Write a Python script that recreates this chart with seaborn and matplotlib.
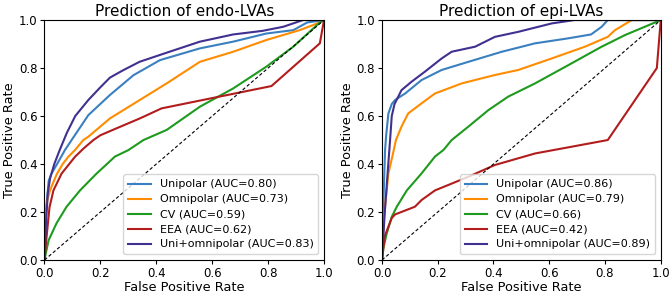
import pandas as pd
import seaborn as sns
import matplotlib.pyplot as plt

# ROC curves
models = ['Unipolar', 'Omnipolar', 'CV', 'EEA', 'Uni+omnipolar']
colors = ['#3a80c0', '#ff8c00', '#1e9a1e', '#b21c1c', '#41308f']

endo_auc = [0.80, 0.73, 0.59, 0.62, 0.83]
epi_auc = [0.86, 0.79, 0.66, 0.42, 0.89]

# endo-LVAs
endo_uni_fpr = [0, 0.005, 0.015, 0.025, 0.045, 0.073, 0.097, 0.157, 0.234, 0.318, 0.413, 0.556, 0.675, 0.794, 0.89, 0.94, 1.0]
endo_uni_tpr = [0, 0.2, 0.33, 0.36, 0.40, 0.458, 0.5, 0.604, 0.6875, 0.77, 0.833, 0.882, 0.91, 0.944, 0.958, 0.99, 1.0]
endo_omni_fpr = [0, 0.002, 0.01, 0.02, 0.03, 0.045, 0.065, 0.085, 0.109, 0.139, 0.157, 0.234, 0.341, 0.437, 0.556, 0.675, 0.794, 0.913, 0.985, 1.0]
endo_omni_tpr = [0, 0.15, 0.25, 0.29, 0.32, 0.36, 0.40, 0.43, 0.458, 0.5, 0.514, 0.59, 0.667, 0.736, 0.826, 0.868, 0.917, 0.958, 0.99, 1.0]
endo_cv_fpr = [0, 0.005, 0.015, 0.043, 0.079, 0.127, 0.187, 0.252, 0.30, 0.354, 0.437, 0.556, 0.675, 0.794, 0.89, 0.985, 1.0]
endo_cv_tpr = [0, 0.03, 0.083, 0.153, 0.222, 0.29, 0.361, 0.431, 0.458, 0.5, 0.542, 0.639, 0.715, 0.806, 0.889, 0.99, 1.0]
endo_eea_fpr = [0, 0.006, 0.018, 0.032, 0.061, 0.109, 0.14, 0.175, 0.2, 0.258, 0.341, 0.419, 0.812, 0.985, 1.0]
endo_eea_tpr = [0, 0.08, 0.22, 0.29, 0.36, 0.43, 0.465, 0.5, 0.52, 0.549, 0.59, 0.632, 0.725, 0.903, 1.0]
endo_comb_fpr = [0, 0.005, 0.012, 0.02, 0.035, 0.055, 0.08, 0.11, 0.157, 0.2, 0.234, 0.28, 0.34, 0.437, 0.556, 0.675, 0.78, 0.854, 0.925, 1.0]
endo_comb_tpr = [0, 0.15, 0.28, 0.34, 0.40, 0.46, 0.53, 0.60, 0.667, 0.72, 0.76, 0.79, 0.826, 0.864, 0.91, 0.94, 0.955, 0.972, 1.0, 1.0]

# epi-LVAs
epi_uni_fpr = [0, 0.004, 0.008, 0.011, 0.015, 0.023, 0.035, 0.047, 0.083, 0.142, 0.214, 0.31, 0.43, 0.549, 0.669, 0.75, 0.788, 0.81, 1.0]
epi_uni_tpr = [0, 0.2, 0.35, 0.458, 0.52, 0.611, 0.65, 0.667, 0.694, 0.75, 0.792, 0.826, 0.868, 0.903, 0.924, 0.94, 0.972, 1.0, 1.0]
epi_omni_fpr = [0, 0.005, 0.011, 0.023, 0.037, 0.05, 0.07, 0.094, 0.142, 0.19, 0.286, 0.405, 0.489, 0.609, 0.728, 0.81, 0.836, 0.896, 1.0]
epi_omni_tpr = [0, 0.15, 0.222, 0.361, 0.431, 0.5, 0.556, 0.611, 0.653, 0.694, 0.736, 0.771, 0.792, 0.84, 0.889, 0.93, 0.958, 1.0, 1.0]
epi_cv_fpr = [0, 0.005, 0.017, 0.035, 0.053, 0.089, 0.142, 0.19, 0.22, 0.25, 0.31, 0.382, 0.453, 0.549, 0.669, 0.788, 0.872, 1.0]
epi_cv_tpr = [0, 0.05, 0.111, 0.18, 0.222, 0.29, 0.361, 0.431, 0.458, 0.5, 0.556, 0.625, 0.681, 0.736, 0.8125, 0.889, 0.9375, 1.0]
epi_eea_fpr = [0, 0.01, 0.035, 0.047, 0.118, 0.142, 0.19, 0.31, 0.405, 0.549, 0.81, 0.986, 1.0]
epi_eea_tpr = [0, 0.1, 0.175, 0.19, 0.222, 0.25, 0.29, 0.347, 0.396, 0.444, 0.5, 0.8, 1.0]
epi_comb_fpr = [0, 0.005, 0.01, 0.02, 0.029, 0.035, 0.045, 0.07, 0.106, 0.154, 0.214, 0.25, 0.334, 0.405, 0.489, 0.609, 0.69, 1.0]
epi_comb_tpr = [0, 0.1, 0.2, 0.36, 0.5, 0.6, 0.65, 0.708, 0.743, 0.785, 0.84, 0.868, 0.889, 0.93, 0.951, 0.986, 1.0, 1.0]

endo_curves = [(endo_uni_fpr, endo_uni_tpr), (endo_omni_fpr, endo_omni_tpr), (endo_cv_fpr, endo_cv_tpr),
               (endo_eea_fpr, endo_eea_tpr), (endo_comb_fpr, endo_comb_tpr)]
epi_curves = [(epi_uni_fpr, epi_uni_tpr), (epi_omni_fpr, epi_omni_tpr), (epi_cv_fpr, epi_cv_tpr),
              (epi_eea_fpr, epi_eea_tpr), (epi_comb_fpr, epi_comb_tpr)]


def to_frame(curves, aucs):
    rows = []
    for name, auc, (fpr, tpr) in zip(models, aucs, curves):
        label = '%s (AUC=%.2f)' % (name, auc)
        for i, (x, y) in enumerate(zip(fpr, tpr)):
            rows.append({'label': label, 'order': i, 'fpr': x, 'tpr': y})
    return pd.DataFrame(rows)


fig = plt.figure(figsize=(6.71, 2.95), dpi=100)
ax1 = fig.add_axes([0.0663, 0.1186, 0.4166, 0.8134])
ax2 = fig.add_axes([0.5693, 0.1186, 0.4154, 0.8134])

panels = [(ax1, endo_curves, endo_auc, 'Prediction of endo-LVAs'),
          (ax2, epi_curves, epi_auc, 'Prediction of epi-LVAs')]

for ax, curves, aucs, title in panels:
    df = to_frame(curves, aucs)
    labels = list(dict.fromkeys(df['label']))
    sns.lineplot(data=df, x='fpr', y='tpr', hue='label', hue_order=labels,
                 palette=colors, units='label', estimator=None, sort=False,
                 linewidth=1.5, ax=ax)
    ax.plot([0, 1], [0, 1], color='black', linestyle='--', linewidth=0.8, dashes=(3, 2))
    ax.set_xlim(0, 1)
    ax.set_ylim(0, 1)
    ax.set_xticks([0, 0.2, 0.4, 0.6, 0.8, 1.0])
    ax.set_yticks([0, 0.2, 0.4, 0.6, 0.8, 1.0])
    ax.tick_params(labelsize=8.5, length=3, width=0.8, pad=2)
    ax.set_xlabel('False Positive Rate', fontsize=9.3, labelpad=1)
    ax.set_ylabel('True Positive Rate', fontsize=9.3, labelpad=2)
    ax.set_title(title, fontsize=11, pad=3)
    for s in ax.spines.values():
        s.set_linewidth(0.8)
    leg = ax.legend(loc='lower right', fontsize=8, handlelength=2.0, borderaxespad=0.5,
                    labelspacing=0.45, borderpad=0.45)
    for line in leg.get_lines():
        line.set_linewidth(1.5)

fig.savefig('out.png', dpi=100)
